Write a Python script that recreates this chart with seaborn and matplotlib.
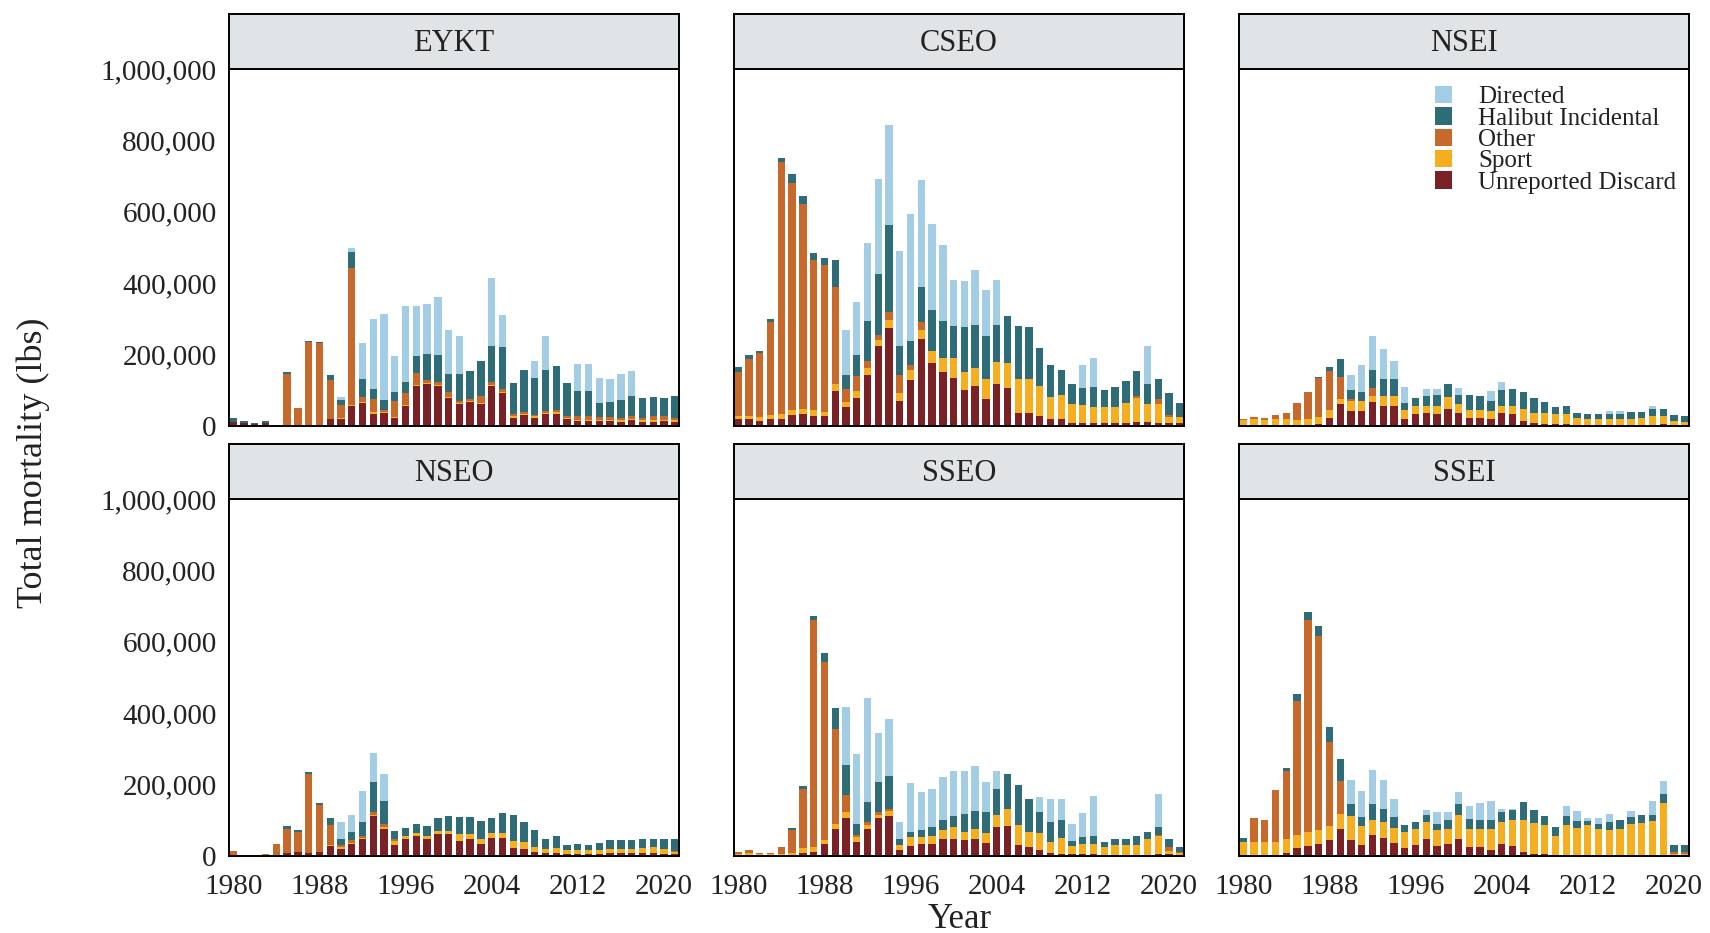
import matplotlib
matplotlib.use("Agg")
import matplotlib.pyplot as plt
import seaborn as sns
import pandas as pd
from matplotlib.patches import Patch
from matplotlib.ticker import FuncFormatter

# ---------------- data (thousands of lbs) ----------------
years = list(range(1980, 2022))
areas = ["EYKT", "CSEO", "NSEI", "NSEO", "SSEO", "SSEI"]
sources = ["Directed", "Halibut Incidental", "Other", "Sport", "Unreported Discard"]
colors = ["#a3cde5", "#2e6c77", "#c8692c", "#f4ae20", "#7a2126"]

EYKT_U = [12,8,5,8,0,0,0,0,0,20, 20,56,65,35,37,23,56,112,117,112, 79,61,68,61,112,93,23,31,23,33, 35,19,14,14,14,14,12,16,12,12, 14,12]
EYKT_S = [0,0,0,0,0,0,0,0,0,0, 2,3,3,3,2,2,3,3,3,3, 3,3,3,3,3,3,4,4,4,4, 4,4,4,4,4,4,4,4,4,4, 4,4]
EYKT_O = [0,0,0,0,0,145,51,236,232,108, 37,383,12,37,5,45,33,33,9,9, 14,7,4,19,7,9,7,4,5,4, 7,6,9,9,7,6,7,9,7,13, 9,7]
EYKT_H = [10,6,4,7,0,5,0,2,2,14, 14,44,53,28,28,25,30,49,73,75, 51,75,78,98,101,117,86,118,103,115, 122,92,70,70,39,42,50,54,56,52, 51,60]
EYKT_D = [0,0,0,0,0,0,0,0,0,0, 9,12,100,196,243,100,213,140,140,162, 123,107,0,0,192,89,0,0,47,96, 0,0,78,78,70,67,74,70,0,0, 0,0]

CSEO_U = [21,19,15,19,21,31,34,28,28,99, 52,78,143,223,274,71,129,243,176,150, 134,101,112,75,118,106,37,37,28,21, 19,9,9,9,9,9,9,12,12,9, 9,9]
CSEO_S = [7,9,9,12,12,14,13,17,12,19, 16,19,19,19,23,21,28,26,33,40, 56,51,50,56,60,70,96,96,84,61, 68,52,50,45,45,45,56,66,50,52, 15,15]
CSEO_O = [124,159,180,259,706,635,574,421,412,271, 37,42,19,14,23,51,14,23,0,0, 0,0,0,0,0,0,0,0,0,0, 0,0,0,0,0,0,0,5,0,16, 7,0]
CSEO_H = [14,12,5,9,12,25,23,19,19,77, 37,61,112,171,243,81,66,96,115,103, 91,126,122,122,106,131,147,143,106,89, 70,58,47,56,47,56,62,70,56,56, 61,41]
CSEO_D = [0,0,0,0,0,0,0,0,0,0, 126,147,220,266,281,265,356,301,242,213, 129,129,154,129,124,0,0,0,0,0, 0,0,66,80,0,0,0,0,105,0, 0,0]

NSEI_U = [0,0,0,0,0,0,0,5,23,61, 42,42,66,56,56,21,33,36,33,47, 37,23,23,19,37,33,14,9,7,5, 5,2,2,2,2,2,2,2,2,5, 2,1]
NSEI_S = [16,20,18,20,20,18,20,19,23,16, 28,28,19,28,28,24,23,21,23,33, 26,23,23,23,19,23,33,28,30,28, 28,21,19,19,19,19,19,21,26,23, 12,10]
NSEI_O = [5,5,5,10,16,46,75,110,108,59, 5,0,21,0,0,0,0,0,0,2, 0,0,0,0,0,0,0,0,0,0, 0,0,0,0,0,0,0,0,0,0, 0,0]
NSEI_H = [0,1,0,0,0,0,0,4,12,53, 26,25,52,49,49,19,23,28,30,37, 25,42,39,28,45,47,47,42,30,21, 23,14,12,12,12,12,17,17,19,19, 16,17]
NSEI_D = [0,0,0,0,0,0,0,0,0,0, 41,75,94,82,50,44,0,19,19,0, 19,0,0,28,22,0,0,0,0,0, 0,0,0,0,9,9,0,0,9,0, 0,0]

NSEO_U = [0,0,0,0,0,9,12,9,12,28, 21,34,47,112,77,31,47,56,47,62, 62,42,47,33,51,51,23,19,12,9, 9,7,7,7,7,9,9,9,8,8, 7,5]
NSEO_S = [2,0,0,0,0,0,0,0,0,2, 4,3,3,3,3,11,9,9,9,7, 9,19,16,14,14,14,19,19,13,12, 14,9,9,9,10,12,12,12,14,16, 12,7]
NSEO_O = [12,3,3,5,34,68,54,220,130,58, 7,7,7,9,10,5,0,0,0,0, 0,0,0,0,0,0,0,0,0,0, 0,0,0,0,0,0,0,0,0,0, 0,2]
NSEO_H = [0,0,0,0,0,6,6,7,7,19, 17,23,37,84,65,23,23,25,28,37, 40,47,45,51,42,56,73,56,49,28, 33,15,17,15,20,25,23,23,25,25, 30,35]
NSEO_D = [0,0,0,0,0,0,0,0,0,0, 47,47,88,81,74,0,0,0,0,0, 0,0,0,0,0,0,0,0,0,0, 0,0,0,0,0,0,0,0,0,0, 0,0]

SSEO_U = [0,0,0,0,0,0,9,11,34,76, 106,39,76,106,112,16,28,34,34,47, 48,44,48,37,81,84,30,25,16,9, 7,6,6,6,4,4,4,4,4,6, 6,2]
SSEO_S = [6,8,5,5,5,8,13,14,12,14, 17,14,11,9,13,16,25,19,23,25, 33,23,28,28,34,48,56,42,49,30, 44,21,28,28,21,26,27,26,45,49, 9,6]
SSEO_O = [5,8,4,4,20,65,167,635,497,265, 48,6,7,7,7,0,0,0,0,0, 0,0,0,0,0,0,0,0,0,0, 0,0,0,0,0,0,0,0,0,4, 9,3]
SSEO_H = [0,0,0,0,0,5,6,11,26,60, 84,31,58,84,93,15,14,19,23,28, 31,51,51,58,73,98,113,93,58,56, 49,16,19,21,14,17,17,26,17,21, 23,14]
SSEO_D = [0,0,0,0,0,0,0,0,0,0, 161,195,291,138,160,48,138,107,109,121, 127,121,124,84,51,0,0,0,42,65, 60,47,68,113,0,0,0,0,0,93, 0,0]

SSEI_U = [0,0,0,0,8,23,27,35,46,77, 46,30,58,51,36,23,30,49,27,35, 49,25,25,18,35,27,11,7,5,2, 2,2,2,2,2,2,2,2,2,2, 0,0]
SSEI_S = [39,39,39,39,40,35,40,39,37,40, 65,53,44,44,43,44,47,47,47,42, 65,51,51,59,61,75,91,86,81,55, 86,77,86,74,72,74,89,91,95,147, 5,5]
SSEI_O = [0,68,63,147,190,377,594,542,237,94, 0,0,0,0,0,0,0,0,0,0, 0,0,0,0,0,0,0,0,0,0, 0,0,0,0,0,0,0,0,0,0, 6,6]
SSEI_H = [12,0,0,0,9,19,23,28,40,60, 36,26,43,37,30,21,19,19,17,23, 31,28,25,25,28,26,50,37,25,24, 25,19,9,15,21,26,19,21,19,26, 19,19]
SSEI_D = [0,0,0,0,0,0,0,0,0,0, 67,73,95,81,51,0,0,14,33,23, 35,37,47,52,9,5,0,0,0,0, 26,28,9,16,24,0,16,0,37,35, 0,0]

year_ticks = [1980, 1988, 1996, 2004, 2012, 2020]
y_ticks = [0, 200000, 400000, 600000, 800000, 1000000]

panel_series = {
    "EYKT": [EYKT_D, EYKT_H, EYKT_O, EYKT_S, EYKT_U],
    "CSEO": [CSEO_D, CSEO_H, CSEO_O, CSEO_S, CSEO_U],
    "NSEI": [NSEI_D, NSEI_H, NSEI_O, NSEI_S, NSEI_U],
    "NSEO": [NSEO_D, NSEO_H, NSEO_O, NSEO_S, NSEO_U],
    "SSEO": [SSEO_D, SSEO_H, SSEO_O, SSEO_S, SSEO_U],
    "SSEI": [SSEI_D, SSEI_H, SSEI_O, SSEI_S, SSEI_U],
}

rows = []
for area, series in panel_series.items():
    for src, vals in zip(sources, series):
        for y, v in zip(years, vals):
            rows.append({"Area": area, "Source": src, "Year": y, "Value": v * 1000})
df = pd.DataFrame(rows)

# ---------------- style ----------------
sns.set_style("white")
plt.rcParams["font.family"] = ["Liberation Serif", "DejaVu Serif"]
TXT = "#222222"

W, H = 1710, 933
fig = plt.figure(figsize=(W / 100, H / 100), dpi=100)

col_left = [229, 734, 1239]
panel_w = 450
row_top = [69, 499]
row_bot = [426, 856]
strip_h = 55

def fx(px):
    return px / W

def fy(py):
    return 1 - py / H

for i, area in enumerate(areas):
    r, c = divmod(i, 3)
    l = col_left[c]
    t, b = row_top[r], row_bot[r]
    ax = fig.add_axes([fx(l), fy(b), fx(panel_w), (b - t) / H])
    sub = df[df["Area"] == area]
    sns.histplot(data=sub, x="Year", weights="Value", hue="Source",
                 hue_order=sources, palette=colors, multiple="stack",
                 discrete=True, shrink=0.68, alpha=1, linewidth=0,
                 legend=False, ax=ax)
    ax.set_xlim(1979.6, 2021.4)
    ax.set_ylim(0, 1_000_000)
    ax.set_xlabel("")
    ax.set_ylabel("")
    ax.grid(False)
    for s in ax.spines.values():
        s.set_color("black")
        s.set_linewidth(1.4)
    ax.set_yticks(y_ticks)
    ax.set_xticks(year_ticks)
    ax.yaxis.set_major_formatter(FuncFormatter(lambda v, p: f"{int(v):,}"))
    ax.tick_params(axis="both", direction="out", length=6, width=1.5,
                   color="black", labelsize=21, labelcolor=TXT, pad=3)
    if c != 0:
        ax.tick_params(axis="y", left=False, labelleft=False)
    if r == 0:
        ax.tick_params(axis="x", bottom=False, labelbottom=False)
    else:
        ax.tick_params(axis="x", pad=7)

    # strip
    sax = fig.add_axes([fx(l), fy(t), fx(panel_w), strip_h / H])
    sax.set_facecolor("#e1e4e6")
    sax.set_xticks([])
    sax.set_yticks([])
    for s in sax.spines.values():
        s.set_color("black")
        s.set_linewidth(1.4)
    sax.text(0.5, 0.46, area, ha="center", va="center", fontsize=22,
             color=TXT, transform=sax.transAxes)

    if area == "NSEI":
        handles = [Patch(facecolor=col, edgecolor="none") for col in colors]
        ax.legend(handles, sources, loc="upper left",
                  bbox_to_anchor=(fx(1435), fy(86)),
                  bbox_transform=fig.transFigure, frameon=False,
                  fontsize=18, handlelength=0.68, handleheight=0.68,
                  handletextpad=1.05, labelspacing=-0.04, borderpad=0,
                  borderaxespad=0, labelcolor=TXT)

fig.text(fx(33), fy(463), "Total mortality (lbs)", rotation=90,
         ha="center", va="center", fontsize=26, color=TXT)
fig.text(fx(960), fy(919), "Year", ha="center", va="center",
         fontsize=25, color=TXT)

fig.savefig("out.png", dpi=100, facecolor="white")
